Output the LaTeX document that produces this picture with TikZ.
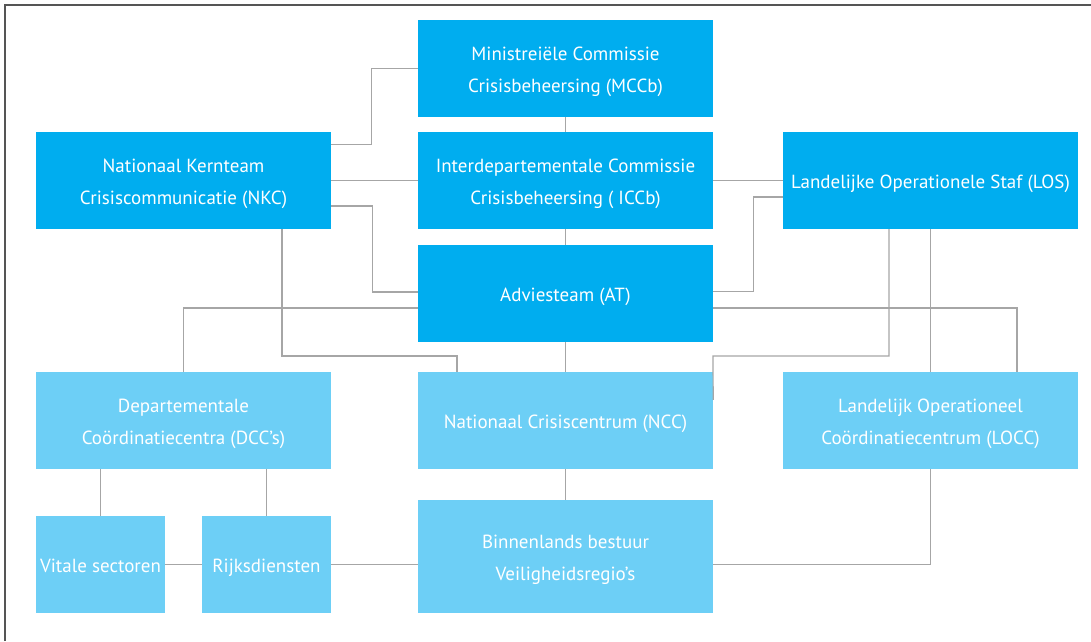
\documentclass[tikz,border=0pt]{standalone}
\usepackage{fontspec}
\setmainfont{PT Sans}
\newcommand\mytop{\rule{0pt}{20pt}}
\newcommand\mybot{\rule[-5pt]{0pt}{5pt}}
\begin{document}
\begin{tikzpicture}[x=1pt,y=-1pt,
  box/.style={minimum width=295pt,minimum height=97pt,inner sep=0pt,text=white,align=center,font=\fontsize{19}{32}\selectfont},
  one/.style={text height=20pt,text depth=4pt},
  dark/.style={box,fill=darkblue},
  light/.style={box,fill=lightblue},
  conn/.style={draw=linegray,line width=1.2pt}]
\definecolor{darkblue}{RGB}{0,173,239}
\definecolor{lightblue}{RGB}{109,207,246}
\definecolor{linegray}{RGB}{166,166,166}
\definecolor{framegray}{RGB}{85,85,85}
\useasboundingbox (0,0) rectangle (1091,641);
\draw[framegray,line width=1.2pt] (5,641) -- (5,5) -- (1091,5);
\node[dark] (mccb) at (565.5,68.5) {\mytop Ministreiële Commissie\\Crisisbeheersing (MCCb)\mybot};
\node[dark] (iccb) at (565.5,180.5) {\mytop Interdepartementale Commissie\\Crisisbeheersing ( ICCb)\mybot};
\node[dark,one] (at) at (565.5,293.5) {Adviesteam (AT)};
\node[dark] (nkc) at (183.5,180.5) {\mytop Nationaal Kernteam\\Crisiscommunicatie (NKC)\mybot};
\node[dark,one] (los) at (930.5,180.5) {Landelijke Operationele Staf (LOS)};
\node[light] (dcc) at (183.5,420.5) {\mytop Departementale\\Coördinatiecentra (DCC’s)\mybot};
\node[light,one] (ncc) at (565.5,420.5) {Nationaal Crisiscentrum (NCC)};
\node[light] (locc) at (930.5,420.5) {\mytop Landelijk Operationeel\\Coördinatiecentrum (LOCC)\mybot};
\node[light,one,minimum width=129pt] (vit) at (100.5,564.5) {Vitale sectoren};
\node[light,one,minimum width=129pt] (rijks) at (266.5,564.5) {Rijksdiensten};
\node[light,minimum height=113pt] (bb) at (565.5,556.5) {\mytop Binnenlands bestuur\\Veiligheidsregio’s\mybot};
\coordinate (c4) at (457,356);
\coordinate (c9) at (713,356);
% connectors
\draw[conn] (mccb.west) -- ++(-46,0) |- ([yshift=-13pt]nkc.north east);
\draw[conn] (nkc.east) -- (iccb.west);
\draw[conn] ([yshift=-25.5pt]nkc.east) -- ++(41,0) |- ([yshift=1.5pt]at.west);
\draw[conn] ([xshift=98.5pt]nkc.south) |- (c4) -- (c4 |- ncc.north);
\draw[conn] ([yshift=-14.5pt]at.west) -| (dcc.north);
\draw[conn] ([yshift=-14.5pt]at.east) -| ([xshift=86.5pt]locc.north);
\draw[conn] (iccb.east) -- (los.west);
\draw[conn] ([yshift=-16.5pt]los.west) -- ++(-29,0) |- ([yshift=2pt]at.east);
\draw[conn] ([xshift=-41.5pt]los.south) |- (c9) -- ([yshift=-28pt]ncc.north east);
\draw[conn] (los.south) -- (locc.north);
\draw[conn] (locc.south) |- ([yshift=-8pt]bb.east);
\draw[conn] (mccb.south) -- (iccb.north);
\draw[conn] (iccb.south) -- (at.north);
\draw[conn] (at.south) -- (ncc.north);
\draw[conn] (ncc.south) -- (bb.north);
\draw[conn] (vit.north |- dcc.south) -- (vit.north);
\draw[conn] (rijks.north |- dcc.south) -- (rijks.north);
\draw[conn] (vit.east) -- (rijks.west);
\draw[conn] (rijks.east) -- (rijks.east -| bb.west);
\end{tikzpicture}
\end{document}
